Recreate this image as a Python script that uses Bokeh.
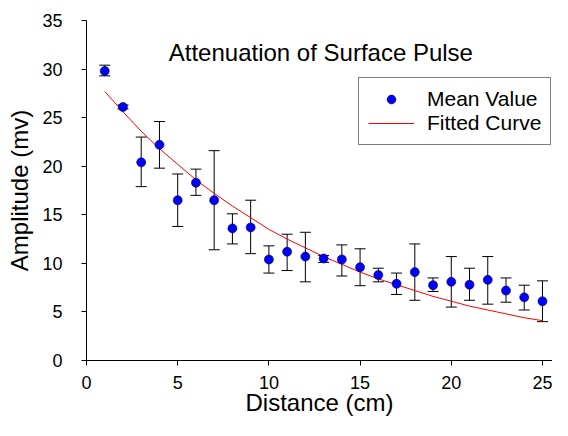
from bokeh.plotting import figure
from bokeh.models import (ColumnDataSource, Whisker, TeeHead, Legend, LegendItem,
                          FixedTicker, Label, Range1d)
from bokeh.embed import file_html
from bokeh.resources import INLINE

# ---- data ----
distance = list(range(1, 26))
mean_value = [29.8, 26.1, 20.4, 22.2, 16.5, 18.3, 16.5, 13.6, 13.7, 10.4,
              11.2, 10.7, 10.5, 10.4, 9.6, 8.8, 7.9, 9.1, 7.75, 8.1,
              7.8, 8.3, 7.2, 6.5, 6.1]
err_upper = [30.4, 26.3, 23.0, 24.6, 19.2, 19.7, 21.6, 15.1, 16.5, 11.8,
             13.0, 13.2, 10.8, 11.9, 11.5, 9.5, 9.0, 12.0, 8.5, 10.7,
             9.5, 10.7, 8.5, 7.75, 8.2]
err_lower = [29.3, 25.9, 17.9, 19.8, 13.8, 17.0, 11.4, 12.0, 11.0, 9.0,
             9.26, 8.1, 10.1, 8.7, 7.7, 8.1, 6.8, 6.2, 7.1, 5.5,
             6.2, 5.8, 6.0, 5.2, 4.0]
fitted = [27.7, 25.6, 23.6, 21.8, 20.2, 18.6, 17.2, 15.9, 14.7, 13.5,
          12.5, 11.6, 10.7, 9.9, 9.1, 8.4, 7.8, 7.2, 6.6, 6.1,
          5.6, 5.2, 4.8, 4.4, 4.1]
x_ticks = [0, 5, 10, 15, 20, 25]
y_ticks = [0, 5, 10, 15, 20, 25, 30, 35]

FONT = "Liberation Sans"

src = ColumnDataSource(dict(x=distance, y=mean_value, up=err_upper, lo=err_lower))
fit_src = ColumnDataSource(dict(x=distance, y=fitted))

p = figure(width=552, height=420, output_backend="svg", toolbar_location=None,
           x_range=Range1d(0, 25.55), y_range=Range1d(0, 35),
           min_border_left=86, min_border_right=0, min_border_top=20,
           min_border_bottom=60)
p.outline_line_color = None
p.xgrid.visible = False
p.ygrid.visible = False

fit_r = p.line("x", "y", source=fit_src, line_color="red", line_width=1)

wh = Whisker(base="x", upper="up", lower="lo", source=src,
             line_color="black", line_width=1,
             upper_head=TeeHead(size=11, line_color="black", line_width=1),
             lower_head=TeeHead(size=11, line_color="black", line_width=1))
p.add_layout(wh)

pts = p.scatter("x", "y", source=src, size=9, fill_color="#0000FF",
                line_color="#000033", line_width=0.6)

for ax, ticks in ((p.xaxis[0], x_ticks), (p.yaxis[0], y_ticks)):
    ax.ticker = FixedTicker(ticks=ticks)
    ax.minor_tick_line_color = None
    ax.major_tick_in = 0
    ax.major_tick_out = 5
    ax.axis_line_color = "black"
    ax.major_tick_line_color = "black"
    ax.major_label_text_font = FONT
    ax.major_label_text_font_size = "18px"
    ax.major_label_text_color = "black"
    ax.axis_label_text_font = FONT
    ax.axis_label_text_font_size = "24px"
    ax.axis_label_text_font_style = "normal"
    ax.axis_label_text_color = "black"

p.xaxis.axis_label = "Distance (cm)"
p.yaxis.axis_label = "Amplitude (mv)"
p.xaxis.major_label_standoff = 10
p.xaxis.axis_label_standoff = -3
p.yaxis.major_label_standoff = 19
p.yaxis.axis_label_standoff = 6

title = Label(x=12.85, y=31.7, text="Attenuation of Surface Pulse",
              text_align="center", text_baseline="alphabetic",
              text_font=FONT, text_font_size="24px", text_color="black")
p.add_layout(title)

legend = Legend(items=[LegendItem(label="Mean Value", renderers=[pts]),
                       LegendItem(label="Fitted Curve", renderers=[fit_r])],
                location=(272, 215), padding=9, spacing=0,
                glyph_width=46, glyph_height=22, label_height=22,
                label_standoff=13, margin=0,
                label_text_font=FONT, label_text_font_size="21px",
                label_text_color="black",
                border_line_color="black", border_line_width=1,
                background_fill_color="white", background_fill_alpha=1)
p.add_layout(legend)

open("out.html", "w").write(file_html(p, INLINE))
